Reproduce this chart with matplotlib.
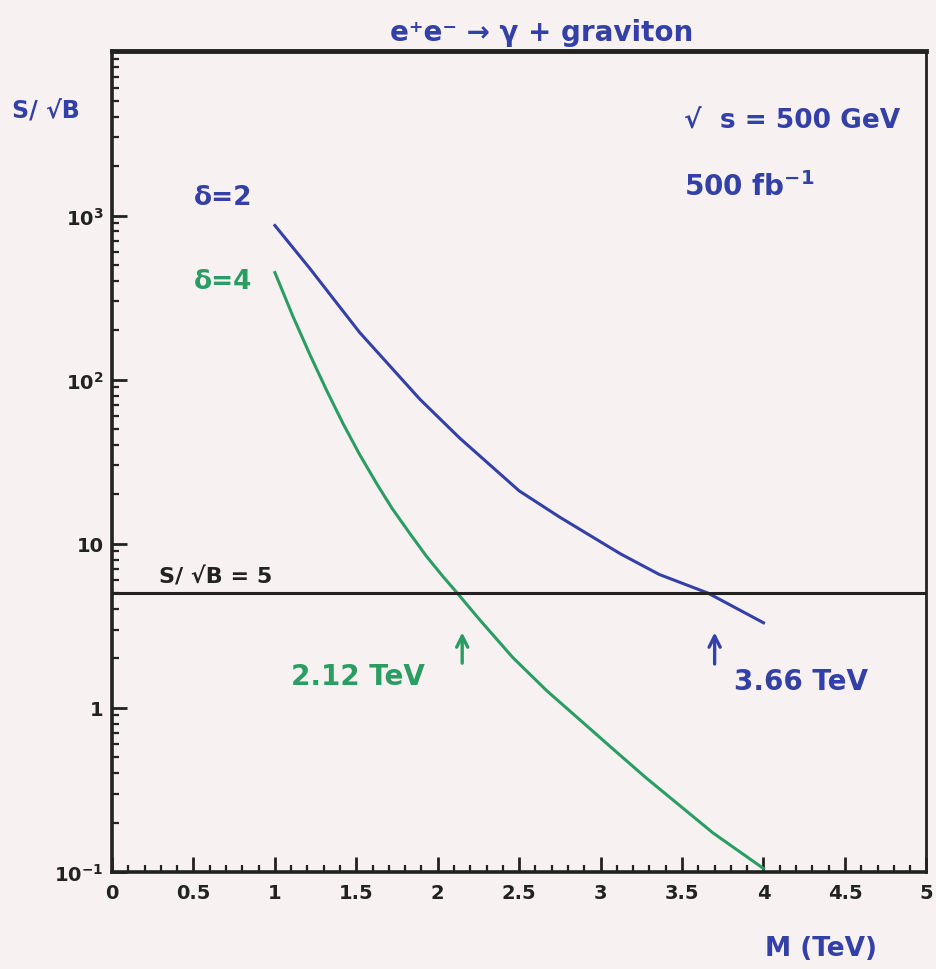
import matplotlib
matplotlib.use("Agg")
import matplotlib.pyplot as plt
from matplotlib.ticker import FixedLocator, MultipleLocator, LogLocator, NullFormatter

# S/sqrt(B)
mass_d2 = [1.0, 1.215, 1.52, 1.89, 2.135, 2.5, 2.75, 3.12, 3.36, 3.66, 4.0]
sig_d2 = [869, 475, 194, 76, 44, 21, 14.5, 8.7, 6.5, 5.0, 3.3]

mass_d4 = [1.0, 1.11, 1.215, 1.32, 1.42, 1.52, 1.63, 1.72, 1.83, 1.93, 2.03, 2.12,
           2.26, 2.46, 2.67, 2.87, 3.08, 3.28, 3.49, 3.69, 4.0]
sig_d4 = [449, 244, 142, 85, 53.6, 35, 22.8, 16.4, 11.5, 8.4, 6.35, 5.0,
          3.42, 2.03, 1.27, 0.85, 0.557, 0.374, 0.252, 0.173, 0.105]

discovery = 5
limits = [2.12, 3.66]

ytick_vals = [0.1, 1, 10, 100, 1000]
ytick_text = [r"$\mathbf{10^{-1}}$", "1", "10", r"$\mathbf{10^{2}}$", r"$\mathbf{10^{3}}$"]
xtick_vals = [0, 0.5, 1, 1.5, 2, 2.5, 3, 3.5, 4, 4.5, 5]

BG = "#f7f1f1"
BLUE = "#3340a8"
GREEN = "#2a9e62"
INK = "#222222"

plt.rcParams["font.family"] = ["DejaVu Sans"]
plt.rcParams["font.weight"] = "bold"

fig = plt.figure(figsize=(9.36, 9.70), dpi=100, facecolor=BG)
ax = fig.add_axes([0.1197, 0.1, 0.870, 0.846], facecolor=BG)

ax.plot(mass_d2, sig_d2, color=BLUE, lw=2.2, solid_joinstyle="round")
ax.plot(mass_d4, sig_d4, color=GREEN, lw=2.2, solid_joinstyle="round")
ax.axhline(discovery, color=INK, lw=2.2)

ax.set_yscale("log")
ax.set_xlim(0, 5)
ax.set_ylim(0.1, 1e4)

ax.xaxis.set_major_locator(FixedLocator(xtick_vals))
ax.xaxis.set_minor_locator(MultipleLocator(0.1))
ax.set_xticklabels([f"{v:g}" for v in xtick_vals])
ax.yaxis.set_major_locator(FixedLocator(ytick_vals))
ax.set_yticklabels(ytick_text)
ax.yaxis.set_minor_locator(LogLocator(base=10, subs=range(2, 10)))
ax.yaxis.set_minor_formatter(NullFormatter())

ax.tick_params(which="major", direction="in", length=11, width=2, labelsize=14,
               top=False, right=False, colors=INK)
ax.tick_params(which="minor", direction="in", length=5, width=1.6,
               top=False, right=False, colors=INK)
ax.tick_params(axis="x", pad=8)
ax.tick_params(axis="y", pad=6)

for side, w in [("top", 3.5), ("left", 2.6), ("bottom", 2.6), ("right", 2.0)]:
    ax.spines[side].set_linewidth(w)
    ax.spines[side].set_color(INK)

# labels
fig.text(0.579, 0.966, "e⁺e⁻ → γ + graviton", color=BLUE, fontsize=20,
         ha="center", va="center")
fig.text(0.013, 0.886, "S/ √B", color=BLUE, fontsize=17, ha="left", va="center")
fig.text(0.877, 0.022, "M (TeV)", color=BLUE, fontsize=19, ha="center", va="center")

ax.text(3.51, 3440, "√  s = 500 GeV", color=BLUE, fontsize=19, ha="left", va="baseline")
ax.text(3.51, 1340, r"500 fb$^{\mathbf{-1}}$", color=BLUE, fontsize=20, ha="left", va="baseline")
ax.text(0.50, 1300, "δ=2", color=BLUE, fontsize=19, ha="left", va="center")
ax.text(0.50, 400, "δ=4", color=GREEN, fontsize=19, ha="left", va="center")
ax.text(0.29, 6.3, "S/ √B = 5", color=INK, fontsize=16, ha="left", va="center")

ax.annotate("", xy=(limits[0] + 0.03, 3.0), xytext=(limits[0] + 0.03, 1.8),
            arrowprops=dict(arrowstyle="->", color=GREEN, lw=2.4, mutation_scale=20))
ax.annotate("", xy=(limits[1] + 0.04, 3.0), xytext=(limits[1] + 0.04, 1.78),
            arrowprops=dict(arrowstyle="->", color=BLUE, lw=2.4, mutation_scale=20))
ax.text(1.10, 1.57, f"{limits[0]:.2f} TeV", color=GREEN, fontsize=20, ha="left", va="center")
ax.text(3.82, 1.46, f"{limits[1]:.2f} TeV", color=BLUE, fontsize=20, ha="left", va="center")

fig.savefig("out.png", dpi=100, facecolor=BG)
